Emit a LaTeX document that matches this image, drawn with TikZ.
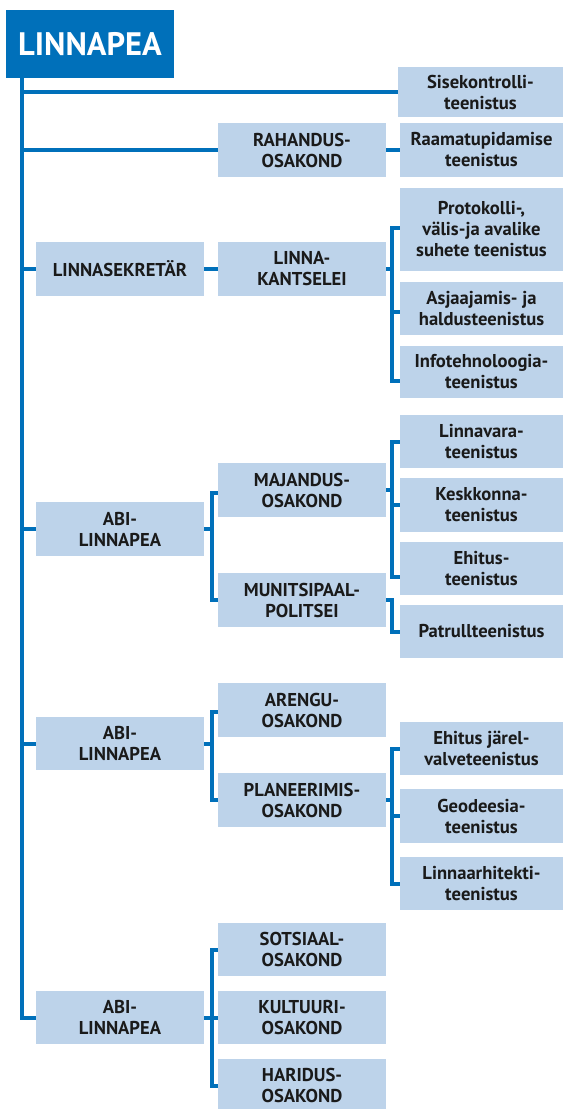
\documentclass[tikz,border=0pt]{standalone}
\usepackage{fontspec}
\setmainfont{PT Sans}
\usetikzlibrary{calc}
\definecolor{cityblue}{HTML}{0070BA}
\definecolor{boxblue}{HTML}{BDD3EA}
\definecolor{ink}{HTML}{1A1A1A}
\tikzstyle{unit}=[fill=boxblue,text=ink,align=center,inner sep=0pt,minimum height=54pt,font=\bfseries\fontsize{18.6}{21}\selectfont]
\tikzstyle{office}=[unit,minimum width=168pt]
\tikzstyle{dept}=[unit,minimum width=168pt]
\tikzstyle{service}=[unit,minimum width=163pt]
\tikzstyle{head}=[fill=cityblue,text=white,inner sep=0pt,minimum width=168pt,minimum height=68pt,font=\bfseries\fontsize{32.5}{36}\selectfont]
\tikzstyle{link}=[draw=cityblue,line width=4pt]

\begin{document}
\begin{tikzpicture}[x=1pt,y=-1pt]
\useasboundingbox (0,0) rectangle (563,1109);
\coordinate (trunk) at (22,0);
\coordinate (raila) at (212,0);
\coordinate (railb) at (392,0);

\node[head] (mayor) at (90,44) {LINNAPEA};

\node[service,minimum width=165pt,minimum height=50pt] (sise) at (480.5,92) {Sisekontrolli-\\teenistus};
\node[dept] (rahandus) at (302,150) {RAHANDUS-\\OSAKOND};
\node[service] (raamat) at (481.5,150) {Raamatupidamise\\teenistus};

\node[office] (sekretar) at (120,269) {LINNASEKRETÄR};
\node[dept] (kantselei) at (302,269) {LINNA-\\KANTSELEI};
\node[service,minimum height=83pt] (protokolli) at (481.5,229.5) {Protokolli-,\\välis-ja avalike\\suhete teenistus};
\node[service,minimum height=53pt] (asjaajamis) at (481.5,308.5) {Asjaajamis- ja\\haldusteenistus};
\node[service,minimum height=52pt] (info) at (481.5,372) {Infotehnoloogia-\\teenistus};

\node[office] (abi1) at (120,529) {ABI-\\LINNAPEA};
\node[dept] (majandus) at (302,490) {MAJANDUS-\\OSAKOND};
\node[dept] (munits) at (302,600) {MUNITSIPAAL-\\POLITSEI};
\node[service,minimum height=53pt] (linnavara) at (481.5,441.5) {Linnavara-\\teenistus};
\node[service] (keskkonna) at (481.5,505) {Keskkonna-\\teenistus};
\node[service,minimum height=53pt] (ehitus) at (481.5,568.5) {Ehitus-\\teenistus};
\node[service,minimum height=53pt] (patrull) at (481.5,631.5) {Patrullteenistus};

\node[office,minimum height=53pt] (abi2) at (120,743.5) {ABI-\\LINNAPEA};
\node[dept] (arengu) at (302,710) {ARENGU-\\OSAKOND};
\node[dept] (planeer) at (302,800) {PLANEERIMIS-\\OSAKOND};
\node[service,minimum height=53pt] (jarel) at (481.5,748.5) {Ehitus järel-\\valveteenistus};
\node[service] (geodeesia) at (481.5,816) {Geodeesia-\\teenistus};
\node[service,minimum height=53pt] (arhitekt) at (481.5,883.5) {Linnaarhitekti-\\teenistus};

\node[office,minimum height=53pt] (abi3) at (120,1017.5) {ABI-\\LINNAPEA};
\node[dept,minimum height=53pt] (sotsiaal) at (302,949.5) {SOTSIAAL-\\OSAKOND};
\node[dept,minimum height=53pt] (kultuuri) at (302,1017.5) {KULTUURI-\\OSAKOND};
\node[dept,minimum height=53pt] (haridus) at (302,1085.5) {HARIDUS-\\OSAKOND};

% trunk
\draw[link] (mayor.south -| trunk) |- (abi3.west);
\draw[link] (trunk |- sise.west) -- (sise.west);
\draw[link] (trunk |- rahandus.west) -- (rahandus.west);
\draw[link] (rahandus.east) -- (raamat.west);
\draw[link] (trunk |- sekretar.west) -- (sekretar.west);
\draw[link] (trunk |- abi1.west) -- (abi1.west);
\draw[link] (trunk |- abi2.west) -- (abi2.west);

% linnasekretar
\draw[link] (sekretar.east) -- (kantselei.west);
\draw[link] (kantselei.east) -- (kantselei.east -| railb);
\draw[link] ($(protokolli.west)+(0,-1.5)$) -| ($(railb |- info.west)+(0,9)$) -- ($(info.west)+(0,9)$);
\draw[link] ($(asjaajamis.west)+(0,3.5)$) -- ($(railb |- asjaajamis.west)+(0,3.5)$);

% abi-linnapea 1
\draw[link] (abi1.east) -- (abi1.east -| raila);
\draw[link] ($(majandus.west)+(0,3)$) -| (raila |- munits.west) -- (munits.west);
\draw[link] (majandus.east) -- (majandus.east -| railb);
\draw[link] (linnavara.west) -| ($(railb |- ehitus.west)+(0,8)$) -- ($(ehitus.west)+(0,8)$);
\draw[link] (keskkonna.west) -- (keskkonna.west -| railb);
\draw[link] (munits.east) -| (railb |- patrull.west) -- (patrull.west);

% abi-linnapea 2
\draw[link] (abi2.east) -- (abi2.east -| raila);
\draw[link] ($(arengu.west)+(0,2)$) -| (raila |- planeer.west) -- (planeer.west);
\draw[link] (planeer.east) -- (planeer.east -| railb);
\draw[link] (jarel.west) -| (railb |- arhitekt.west) -- (arhitekt.west);
\draw[link] (geodeesia.west) -- (geodeesia.west -| railb);

% abi-linnapea 3
\draw[link] (abi3.east) -- (abi3.east -| raila);
\draw[link] (sotsiaal.west) -| (raila |- haridus.west) -- (haridus.west);
\draw[link] (kultuuri.west) -- (kultuuri.west -| raila);
\end{tikzpicture}
\end{document}
